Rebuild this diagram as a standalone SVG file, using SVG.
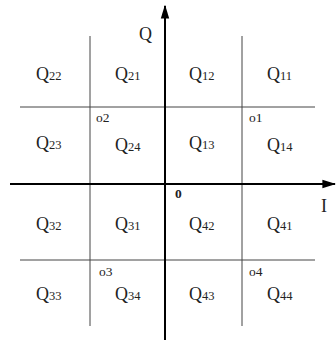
<svg xmlns="http://www.w3.org/2000/svg" width="336" height="345" viewBox="0 0 336 345">
<style>
.grid{stroke:#444;stroke-width:1;fill:none}
.axis{stroke:#000;stroke-width:2;fill:none}
.q{font-family:"Liberation Serif",serif;font-size:18px;fill:#222}
.s{font-size:12.5px}
.o{font-family:"Liberation Serif",serif;font-size:13.5px;fill:#222}
.lbl{font-family:"Liberation Serif",serif;font-size:18px;fill:#222}
</style>
<defs>
<marker id="arr" viewBox="0 0 10 10" refX="9" refY="5" markerWidth="7" markerHeight="7" orient="auto" markerUnits="strokeWidth">
<path d="M0,2 L10,5 L0,8 Z" fill="#000"/>
</marker>
</defs>
<rect width="336" height="345" fill="#fff"/>
<g id="connectors">
<line class="grid" x1="90" y1="36" x2="90" y2="326"/>
<line class="grid" x1="242" y1="36" x2="242" y2="326"/>
<line class="grid" x1="20" y1="107" x2="315" y2="107"/>
<line class="grid" x1="20" y1="260" x2="315" y2="260"/>
<line class="axis" x1="165" y1="340" x2="165" y2="6" marker-end="url(#arr)"/>
<line class="axis" x1="10" y1="184" x2="335" y2="184" marker-end="url(#arr)"/>
</g>
<g id="labels">
<text class="lbl" x="139" y="40">Q</text>
<text class="lbl" x="321" y="212">I</text>
<text class="o" x="175" y="198" font-weight="bold" font-size="14">0</text>
<text class="o" x="96" y="122">o2</text>
<text class="o" x="249" y="122">o1</text>
<text class="o" x="99" y="276">o3</text>
<text class="o" x="249" y="276">o4</text>
</g>
<g id="Q22"><text class="q" x="36" y="80">Q<tspan class="s">22</tspan></text></g>
<g id="Q21"><text class="q" x="115" y="80">Q<tspan class="s">21</tspan></text></g>
<g id="Q12"><text class="q" x="189" y="80">Q<tspan class="s">12</tspan></text></g>
<g id="Q11"><text class="q" x="267" y="80">Q<tspan class="s">11</tspan></text></g>
<g id="Q23"><text class="q" x="36" y="149">Q<tspan class="s">23</tspan></text></g>
<g id="Q24"><text class="q" x="115" y="151">Q<tspan class="s">24</tspan></text></g>
<g id="Q13"><text class="q" x="189" y="149">Q<tspan class="s">13</tspan></text></g>
<g id="Q14"><text class="q" x="267" y="151">Q<tspan class="s">14</tspan></text></g>
<g id="Q32"><text class="q" x="36" y="230">Q<tspan class="s">32</tspan></text></g>
<g id="Q31"><text class="q" x="115" y="230">Q<tspan class="s">31</tspan></text></g>
<g id="Q42"><text class="q" x="189" y="230">Q<tspan class="s">42</tspan></text></g>
<g id="Q41"><text class="q" x="267" y="230">Q<tspan class="s">41</tspan></text></g>
<g id="Q33"><text class="q" x="36" y="300">Q<tspan class="s">33</tspan></text></g>
<g id="Q34"><text class="q" x="115" y="300">Q<tspan class="s">34</tspan></text></g>
<g id="Q43"><text class="q" x="189" y="300">Q<tspan class="s">43</tspan></text></g>
<g id="Q44"><text class="q" x="267" y="300">Q<tspan class="s">44</tspan></text></g>
</svg>
